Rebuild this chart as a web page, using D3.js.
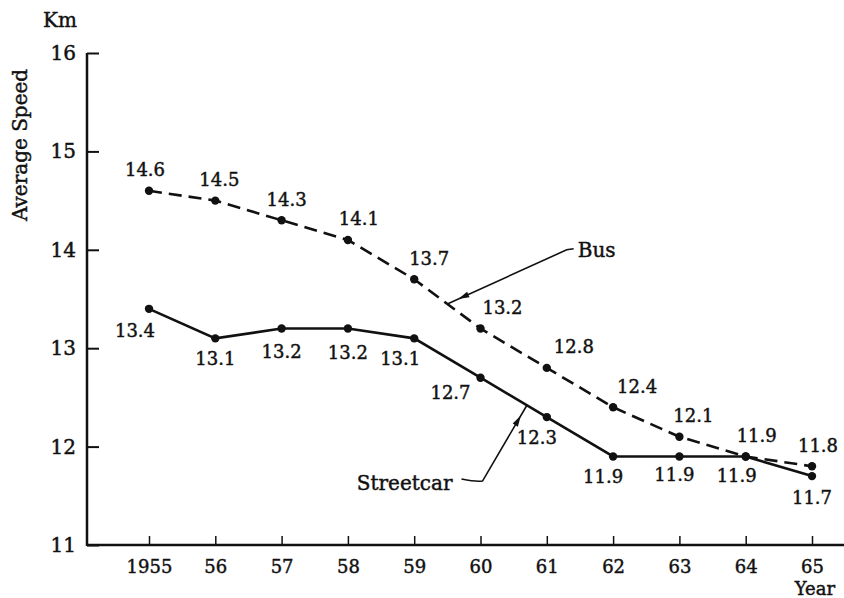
<!DOCTYPE html>
<html>
<head>
<meta charset="utf-8">
<script src="https://cdn.jsdelivr.net/npm/d3@7/dist/d3.min.js"></script>
<style>
  body { margin: 0; background: #fff; }
  svg text { font-family: "DejaVu Serif", "Liberation Serif", serif; fill: #111; stroke: #111; stroke-width: 0.45px; }
</style>
</head>
<body>
<div id="dataviz"></div>
<script>
// data
var years = [1955, 1956, 1957, 1958, 1959, 1960, 1961, 1962, 1963, 1964, 1965];
var yearLabels = ["1955", "56", "57", "58", "59", "60", "61", "62", "63", "64", "65"];
var busSpeed = [14.6, 14.5, 14.3, 14.1, 13.7, 13.2, 12.8, 12.4, 12.1, 11.9, 11.8];
var streetcarSpeed = [13.4, 13.1, 13.2, 13.2, 13.1, 12.7, 12.3, 11.9, 11.9, 11.9, 11.7];
var speedTicks = [11, 12, 13, 14, 15, 16];

// label nudges (pixels) so the numbers sit like in the print
var busLabelDx = [-4, 4, 5, 11, 15, 22, 27, 24, 14, 11, 6];
var carLabelDx = [-14, 0, 0, 0, -14, -30, -10, -10, -5, -9, 0];
var carLabelDy = [22, 20, 23, 24, 20, 15, 20, 20, 18, 19, 21];

buildChart();

function buildChart() {
    d3.selectAll('svg').remove();

    var width = 844, height = 598;
    var axisX = 87, axisY = 545;

    var svg = d3.select("#dataviz")
      .append("svg")
        .attr("width", width)
        .attr("height", height);

    var x = d3.scaleLinear().domain([1955, 1965]).range([149, 812]);
    var y = d3.scaleLinear().domain([11, 16]).range([axisY, 53]);

    // y axis
    var yAxis = svg.append("g")
        .attr("transform", "translate(" + axisX + ",0)")
        .call(d3.axisLeft(y).tickValues(speedTicks).tickFormat(d3.format("d"))
              .tickSizeInner(-12).tickSizeOuter(0).tickPadding(11));
    yAxis.select(".domain").remove();
    yAxis.selectAll(".tick line").attr("stroke", "#111").attr("stroke-width", 2);
    yAxis.selectAll(".tick text").style("font-size", "20px").style("font-family", "DejaVu Serif");

    // x axis
    var xAxis = svg.append("g")
        .attr("transform", "translate(0," + axisY + ")")
        .call(d3.axisBottom(x).tickValues(years)
              .tickFormat(function(d, i) { return yearLabels[i]; })
              .tickSizeInner(-9).tickSizeOuter(0).tickPadding(15));
    xAxis.select(".domain").remove();
    xAxis.selectAll(".tick line").attr("stroke", "#111").attr("stroke-width", 1.5);
    xAxis.selectAll(".tick text").style("font-size", "18px").style("font-family", "DejaVu Serif");

    // axis lines
    svg.append("line")
        .attr("x1", axisX).attr("x2", axisX)
        .attr("y1", y(16)).attr("y2", axisY + 1)
        .attr("stroke", "#111").attr("stroke-width", 2.5);
    svg.append("line")
        .attr("x1", axisX).attr("x2", width)
        .attr("y1", axisY).attr("y2", axisY)
        .attr("stroke", "#111").attr("stroke-width", 2.5);

    var line = d3.line()
        .x(function(d) { return x(d[0]); })
        .y(function(d) { return y(d[1]); });

    var bus = years.map(function(yr, i) { return [yr, busSpeed[i]]; });
    var car = years.map(function(yr, i) { return [yr, streetcarSpeed[i]]; });

    // lines
    svg.append("path")
        .datum(bus)
        .attr("d", line)
        .attr("fill", "none")
        .attr("stroke", "#111")
        .attr("stroke-width", 2.6)
        .attr("stroke-dasharray", "13,7");
    svg.append("path")
        .datum(car)
        .attr("d", line)
        .attr("fill", "none")
        .attr("stroke", "#111")
        .attr("stroke-width", 2.6);

    // dots
    svg.selectAll(".busdot")
      .data(bus)
      .enter()
      .append("circle")
        .attr("cx", function(d) { return x(d[0]); })
        .attr("cy", function(d) { return y(d[1]); })
        .attr("r", 4.2)
        .attr("fill", "#111");
    svg.selectAll(".cardot")
      .data(car)
      .enter()
      .append("circle")
        .attr("cx", function(d) { return x(d[0]); })
        .attr("cy", function(d) { return y(d[1]); })
        .attr("r", 4.2)
        .attr("fill", "#111");

    // value labels
    svg.selectAll(".buslabel")
      .data(bus)
      .enter()
      .append("text")
        .attr("x", function(d, i) { return x(d[0]) + busLabelDx[i]; })
        .attr("y", function(d) { return y(d[1]) - 21; })
        .attr("dy", "0.36em")
        .text(function(d) { return d3.format(".1f")(d[1]); })
        .style("font-size", "18px")
        .style("text-anchor", "middle");
    svg.selectAll(".carlabel")
      .data(car)
      .enter()
      .append("text")
        .attr("x", function(d, i) { return x(d[0]) + carLabelDx[i]; })
        .attr("y", function(d, i) { return y(d[1]) + carLabelDy[i]; })
        .attr("dy", "0.36em")
        .text(function(d) { return d3.format(".1f")(d[1]); })
        .style("font-size", "18px")
        .style("text-anchor", "middle");

    // point on a series at a fractional year
    function pointOn(series, yr) {
        var i = Math.min(Math.floor(yr - 1955), series.length - 2);
        var t = yr - 1955 - i;
        var v = series[i][1] + (series[i + 1][1] - series[i][1]) * t;
        return [x(yr), y(v)];
    }

    function arrowHead(from, to) {
        var ang = Math.atan2(to[1] - from[1], to[0] - from[0]);
        var len = Math.hypot(to[0] - from[0], to[1] - from[1]);
        var back = 12;
        var tip = [from[0] + Math.cos(ang) * (len - back), from[1] + Math.sin(ang) * (len - back)];
        var base = [tip[0] - Math.cos(ang) * 11, tip[1] - Math.sin(ang) * 11];
        var nx = -Math.sin(ang) * 3, ny = Math.cos(ang) * 3;
        svg.append("path")
            .attr("d", "M" + tip + "L" + [base[0] + nx, base[1] + ny] + "L" + [base[0] - nx, base[1] - ny] + "Z")
            .attr("fill", "#111");
    }

    // Bus callout
    var busTarget = pointOn(bus, 1959.5);
    var busElbow = [x(1961.3), y(14.0)];
    svg.append("path")
        .attr("d", "M" + busTarget + "L" + busElbow + "L" + [busElbow[0] + 7, busElbow[1] - 1])
        .attr("fill", "none").attr("stroke", "#111").attr("stroke-width", 1.6);
    arrowHead(busElbow, busTarget);
    svg.append("text")
        .attr("x", busElbow[0] + 11)
        .attr("y", busElbow[1])
        .attr("dy", "0.36em")
        .text("Bus")
        .style("font-size", "20px");

    // Streetcar callout
    var carTarget = pointOn(car, 1960.7);
    var carElbow = [x(1960.03), y(11.65)];
    svg.append("path")
        .attr("d", "M" + carTarget + "L" + carElbow +
              "Q" + [carElbow[0] - 6, carElbow[1] + 1] + " " + [carElbow[0] - 21, carElbow[1] - 2])
        .attr("fill", "none").attr("stroke", "#111").attr("stroke-width", 1.6);
    arrowHead(carElbow, carTarget);
    svg.append("text")
        .attr("x", carElbow[0] - 30)
        .attr("y", carElbow[1] + 2)
        .attr("dy", "0.36em")
        .text("Streetcar")
        .style("font-size", "20px")
        .style("text-anchor", "end");

    // axis titles
    svg.append("text")
        .attr("x", 43)
        .attr("y", 27)
        .text("Km")
        .style("font-size", "20px");
    svg.append("text")
        .attr("transform", "translate(27,145) rotate(-90)")
        .text("Average Speed")
        .style("font-size", "20px")
        .style("text-anchor", "middle");
    svg.append("text")
        .attr("x", 835)
        .attr("y", 595)
        .text("Year")
        .style("font-size", "18px")
        .style("text-anchor", "end");
}
</script>
</body>
</html>
